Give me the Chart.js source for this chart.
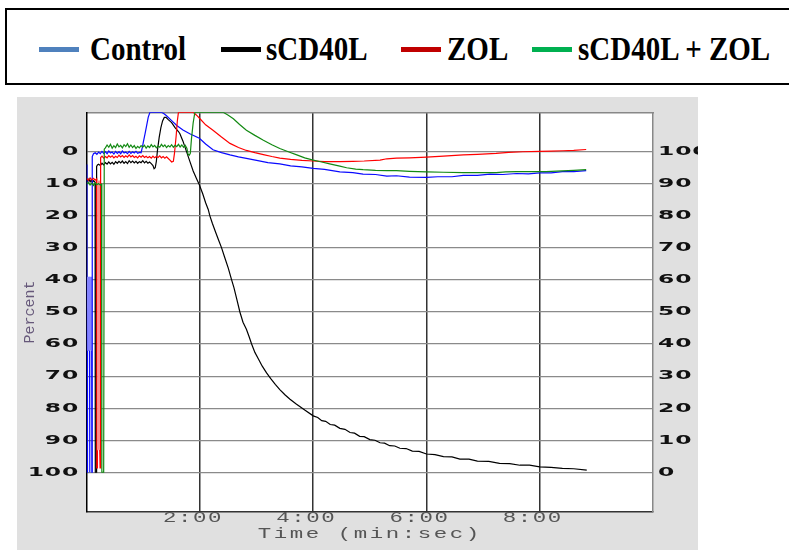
<!DOCTYPE html>
<html><head><meta charset="utf-8">
<script src="https://cdn.jsdelivr.net/npm/chart.js@4.4.1/dist/chart.umd.min.js"></script>
<style>
html,body{margin:0;padding:0;background:#fff;width:789px;height:550px;overflow:hidden;position:relative;}
#box{position:absolute;left:5px;top:8px;width:820px;height:77px;border:2px solid #000;box-sizing:border-box;}
.sw{position:absolute;top:47px;height:5px;width:40px;}
.lt{position:absolute;top:36.4px;height:29px;font:bold 29px "Liberation Serif";line-height:29px;white-space:nowrap;color:#000;transform:scaleY(1.15);transform-origin:0 24.3px;}
#panel{position:absolute;left:17px;top:97px;width:681px;height:453px;background:#e0e0e0;}
canvas{display:block;}
</style></head>
<body>
<div id="box"></div>
<div class="sw" style="left:39px;background:#4f81bd"></div><div class="lt" style="left:90px">Control</div>
<div class="sw" style="left:221px;background:#000"></div><div class="lt" style="left:266px">sCD40L</div>
<div class="sw" style="left:401px;background:#c00000"></div><div class="lt" style="left:447px">ZOL</div>
<div class="sw" style="left:532px;background:#00b050"></div><div class="lt" style="left:578px">sCD40L + ZOL</div>
<div id="panel"><canvas id="c" width="681" height="453"></canvas></div>
<script>
// ---- axis ticks ----
const percentTicks = [0,10,20,30,40,50,60,70,80,90,100];
const timeTicks = [2,4,6,8];
const timeLabels = ['2:00','4:00','6:00','8:00'];
const axisLow = -12.3, axisHigh = 112.3;

// ---- Control (time in min, percent on left axis) ----
const controlT = [0,0.004,0.011,0.014,0.018,0.022,0.026,0.03,0.034,0.038,0.042,0.046,0.05,0.053,0.056,0.06,0.064,0.068,0.072,0.076,0.08,0.084,0.088,0.091,0.094,0.098,
 0.12,0.15,0.18,0.21,0.24,0.27,0.3,0.33,0.36,0.39,0.42,0.45,0.48,0.51,0.54,0.57,0.6,0.63,0.66,0.69,0.72,0.75,0.78,0.81,0.84,0.87,0.9,0.93,0.96,
 0.985,1.0,1.03,1.06,1.087,1.117,1.32,1.36,1.41,1.5,1.59,1.7,1.82,1.99,2.1,2.23,2.38,2.53,2.68,2.82,3.0,3.2,3.41,3.6,3.8,4.0,4.2,4.47,4.7,4.88,5.1,5.3,5.47,5.7,6.0,6.2,6.45,6.65,6.9,7.12,7.35,7.59,7.8,8.0,8.2,8.4,8.6,8.82];
const controlV = [4,100,100,39,62,39,62,39,62,39,62,39,62,100,62,39,62,39,62,39,62,39,62,100,100,1.5,
 0.6,0.3,0.8,0.1,0.6,-0.1,0.5,0.0,0.6,-0.2,0.4,0.1,0.7,-0.1,0.5,0.0,0.6,-0.2,0.4,0.1,0.6,-0.1,0.5,0.0,0.4,-0.1,0.5,0.2,0.3,
 -1.5,-3.0,-5.6,-8.3,-10.8,-12.3,-12.3,-11.9,-11.2,-9.7,-8.2,-6.8,-5.6,-4.2,-2.4,-0.6,0.3,1.0,1.6,2.1,2.7,3.4,3.8,4.4,4.7,5.2,5.5,6.3,6.5,7.0,7.1,7.6,7.5,7.9,8.0,7.8,7.8,7.4,7.4,7.0,7.1,6.8,6.9,6.6,6.6,6.2,6.2,5.9];

// ---- sCD40L ----
const scd40lT = [0,0.02,0.04,0.06,0.08,0.1,0.12,0.14,0.148,0.152,0.168,0.175,
 0.19,0.21,0.24,0.27,0.3,0.33,0.36,0.39,0.42,0.45,0.48,0.51,0.54,0.57,0.6,0.63,0.66,0.69,0.72,0.75,0.78,0.81,0.84,0.87,0.9,0.93,0.96,0.99,1.02,1.05,1.08,1.11,1.14,1.17,
 1.19,1.21,1.23,1.25,1.28,1.31,1.34,1.37,1.4,1.44,1.5,1.56,1.62,1.646,1.7,1.76,1.823,1.88,1.94,1.987,2.05,2.1,2.146,2.175,2.22,2.28,2.33,2.382,2.43,2.5,2.559,2.6,2.65,2.705,2.76,2.82,2.87,2.912,2.97,3.03,3.1,3.176,3.25,3.33,3.41,3.5,3.59,3.7,3.85,
 4.0,4.08,4.15,4.22,4.3,4.38,4.47,4.56,4.65,4.73,4.82,4.9,5.0,5.09,5.18,5.26,5.35,5.44,5.53,5.64,5.75,5.87,6.0,6.15,6.3,6.45,6.59,6.75,6.9,7.1,7.29,7.47,7.65,7.82,8.0,8.2,8.4,8.6,8.83];
const scd40lV = [8.7,9.3,8.5,9.4,8.8,9.6,9.0,9.3,9.5,100,100,4.6,
 4.1,3.9,4.3,3.6,4.1,3.4,3.9,3.2,3.8,3.3,3.9,3.1,3.6,3.0,3.5,2.9,3.6,3.1,3.7,2.8,3.4,2.9,3.5,3.0,3.6,3.1,3.4,2.8,3.5,3.0,3.6,3.2,3.7,4.3,
 5.3,5.0,3.0,-0.5,-4.5,-7.5,-9.6,-10.7,-10.7,-10.0,-9.1,-7.5,-6.3,-5.6,-3.3,-0.2,3.1,6.0,8.4,10.2,13.2,15.9,18.0,20,22.4,25.3,27.6,30,32.6,36.3,40,42.4,46.0,50,53.2,55.4,57.8,60,62.6,64.6,66.9,69,70.8,72.6,74.2,75.8,77.2,78.7,80.6,
 82.4,82.9,83.9,84.1,85.1,85.3,86.3,86.6,87.6,87.8,88.8,88.9,89.8,90.0,90.8,90.9,91.7,91.8,92.5,92.6,93.4,93.5,94.3,94.5,95.1,95.2,95.9,95.9,96.5,96.6,97.2,97.3,97.8,97.8,98.3,98.5,98.8,98.9,99.3];

// ---- ZOL ----
const zolT = [0,0.03,0.06,0.09,0.12,0.15,0.175,0.178,0.186,0.19,0.194,0.198,0.202,0.206,0.21,0.214,0.218,0.222,0.226,0.23,0.236,0.244,0.248,
 0.27,0.3,0.33,0.36,0.39,0.42,0.45,0.48,0.51,0.54,0.57,0.6,0.63,0.66,0.69,0.72,0.75,0.78,0.81,0.84,0.87,0.9,0.93,0.96,0.99,1.02,1.05,1.08,1.11,1.14,1.17,1.2,1.23,1.26,1.29,1.32,1.35,1.38,1.41,1.44,
 1.47,1.5,1.53,1.55,1.58,1.6,1.62,1.88,1.94,2.0,2.1,2.23,2.38,2.53,2.68,2.82,2.97,3.12,3.27,3.41,3.6,3.8,4.0,4.2,4.47,4.7,4.9,5.18,5.3,5.47,5.7,6.0,6.3,6.65,6.9,7.23,7.45,7.7,8.0,8.2,8.41,8.6,8.82];
const zolV = [8.3,8.9,8.2,8.8,8.3,8.9,8.5,98.6,98.6,93,9,93,9,93,9,93,9,93,9,93,98.6,98.6,1.8,
 1.4,2.0,1.5,1.9,1.2,1.7,1.3,1.9,1.4,1.8,1.1,1.6,1.2,1.8,1.3,1.7,1.0,1.6,1.2,1.8,1.4,1.9,1.3,1.7,1.2,1.8,1.4,1.9,1.5,2.0,1.4,1.9,1.5,1.8,1.3,1.9,1.5,2.0,1.6,2.1,
 2.6,3.2,3.0,0.5,-5,-9.5,-12.3,-12.3,-11.4,-10.3,-8.4,-6.7,-4.6,-2.6,-1.3,-0.4,0.3,0.9,1.5,2.0,2.4,2.7,2.9,3.1,3.1,3.0,2.9,2.6,2.2,2.0,1.9,1.7,1.4,1.0,0.8,0.5,0.2,0.0,-0.1,-0.2,-0.3,-0.4,-0.7];

// ---- sCD40L + ZOL ----
const comboT = [0,0.03,0.06,0.09,0.12,0.15,0.18,0.21,0.24,0.262,0.265,0.27,0.3,0.31,
 0.33,0.36,0.39,0.42,0.45,0.48,0.51,0.54,0.57,0.6,0.63,0.66,0.69,0.72,0.75,0.78,0.81,0.84,0.87,0.9,0.93,0.96,0.99,1.02,1.05,1.08,1.11,1.14,1.17,1.2,1.23,1.26,1.29,1.32,1.35,1.38,1.41,1.44,1.47,1.5,1.53,1.56,1.59,1.62,1.65,1.68,1.71,1.74,1.77,
 1.79,1.81,1.83,1.85,1.88,1.91,2.41,2.5,2.59,2.7,2.82,2.97,3.12,3.27,3.41,3.56,3.71,3.85,4.0,4.15,4.29,4.47,4.59,4.75,4.88,5.1,5.3,5.47,5.7,6.0,6.3,6.65,6.95,7.23,7.4,7.59,7.85,8.11,8.4,8.6,8.82];
const comboV = [10.0,9.6,10.4,9.8,10.5,9.7,10.3,9.9,10.4,10.1,93,100,100,-0.8,
 -1.2,-2.1,-1.4,-2.3,-1.1,-1.9,-1.3,-2.4,-1.5,-2.0,-1.2,-2.2,-1.6,-2.5,-1.4,-2.1,-1.3,-1.9,-1.0,-1.7,-1.2,-1.9,-1.4,-2.0,-1.1,-1.8,-1.3,-2.2,-1.5,-2.0,-1.2,-1.8,-1.4,-2.3,-1.6,-2.1,-1.3,-1.9,-1.5,-2.2,-1.4,-2.0,-1.6,-2.3,-1.5,-2.1,-1.4,-2.0,-1.0,
 0.8,1.1,0.5,-4,-9,-12.3,-12.3,-11.4,-10.3,-8.5,-6.7,-5.1,-3.6,-2.2,-1.0,0.0,1.0,1.9,2.6,3.2,3.8,4.5,5.0,5.4,5.6,5.8,5.9,5.9,6.1,6.3,6.4,6.5,6.5,6.5,6.3,6.2,6.2,6.2,6.0,5.8,5.6];

const pts = (t, v) => t.map((x, i) => ({x, y: v[i]}));
function lightSegments(windows, col) {
  return c => windows.some(w => c.p0.parsed.x >= w[0] && c.p1.parsed.x <= w[1]) ? col : undefined;
}

// text styling per scale: letter spacing and horizontal stretch
const labelStyle = {x: ['1px', 1.6], y: ['0.5px', 1.8], y2: ['0.5px', 1.8]};
const titleStyle = {x: ['1.6px', 1.6], y: ['0px', 1]};
function styled(scale, style, fn) {
  const c = scale.ctx;
  const [ls, sx] = style || ['0px', 1];
  c.save();
  c.letterSpacing = ls;
  const orig = CanvasRenderingContext2D.prototype.fillText;
  if (sx !== 1) {
    c.fillText = function (t, x, y, mw) {
      this.save(); this.translate(x, y); this.scale(sx, 1);
      if (mw === undefined || mw === null) orig.call(this, t, 0, 0); else orig.call(this, t, 0, 0, mw / sx);
      this.restore();
    };
  }
  fn();
  delete c.fillText;
  c.restore();
}
const helper = {
  id: 'helper',
  afterUpdate(chart) {
    Object.values(chart.scales).forEach(s => {
      if (s.__sp) return; s.__sp = true;
      const dl = s.drawLabels, dt = s.drawTitle;
      s.drawLabels = function (a) { styled(this, labelStyle[this.id], () => dl.call(this, a)); };
      s.drawTitle = function () { styled(this, titleStyle[this.id], () => dt.call(this)); };
    });
  },
  beforeDraw(chart) {
    const {ctx, chartArea: a} = chart;
    ctx.save(); ctx.fillStyle = '#fff'; ctx.fillRect(a.left, a.top, a.right - a.left, a.bottom - a.top); ctx.restore();
  }
};

new Chart(document.getElementById('c'), {
  type: 'line',
  data: {
    datasets: [
      {label: 'sCD40L + ZOL', data: pts(comboT, comboV), borderColor: '#138a13', order: 1},
      {label: 'ZOL', data: pts(zolT, zolV), borderColor: '#ff0000', order: 2,
       segment: {borderColor: lightSegments([[0.188, 0.232]], '#ff8c8c')}},
      {label: 'Control', data: pts(controlT, controlV), borderColor: '#0a0aff', order: 3,
       segment: {borderColor: lightSegments([[0.014, 0.05], [0.056, 0.088]], '#8484ff')}},
      {label: 'sCD40L', data: pts(scd40lT, scd40lV), borderColor: '#000000', order: 4}
    ]
  },
  options: {
    responsive: false, animation: false,
    layout: {padding: {top: 9.7, right: 0, bottom: 0, left: 0}},
    plugins: {legend: {display: false}, tooltip: {enabled: false}},
    elements: {point: {radius: 0}, line: {borderWidth: 1.2, tension: 0}},
    scales: {
      x: {
        type: 'linear', position: 'bottom', min: 0, max: 10,
        afterBuildTicks: s => { s.ticks = timeTicks.map(v => ({value: v})); },
        afterFit: s => { s.height = 38.3; },
        ticks: {callback: v => timeLabels[timeTicks.indexOf(v)], font: {family: 'Liberation Mono', size: 14, lineHeight: 1},
                color: '#555', padding: 0, labelOffset: -7, maxRotation: 0, autoSkip: false},
        grid: {color: '#333', lineWidth: 1.5, drawTicks: false},
        border: {color: '#333', width: 1.5},
        title: {display: true, text: 'Time (min:sec)', font: {family: 'Liberation Mono', size: 14, lineHeight: 1.2}, color: '#555', padding: {top: 0, bottom: 7.6}}
      },
      x2: {
        type: 'linear', position: 'top', min: 0, max: 10,
        afterFit: s => { s.height = 0; },
        ticks: {display: false}, grid: {display: false, drawTicks: false},
        border: {color: '#888', width: 1.5}
      },
      y: {
        type: 'linear', position: 'left', reverse: true, min: axisLow, max: axisHigh,
        afterBuildTicks: s => { s.ticks = percentTicks.map(v => ({value: v})); },
        afterFit: s => { s.width = 69.7; },
        ticks: {callback: v => String(v), font: {family: 'DejaVu Sans', size: 13, weight: 'bold'}, color: '#111', padding: 7.5, autoSkip: false},
        grid: {color: '#8a8a8a', lineWidth: 1.2, drawTicks: false},
        border: {color: '#000', width: 1.5},
        title: {display: true, text: 'Percent', font: {family: 'Liberation Mono', size: 15, lineHeight: 1.2}, color: '#66587a', padding: {top: 4.5, bottom: 0}}
      },
      y2: {
        type: 'linear', position: 'right', min: 100 - axisHigh, max: 100 - axisLow,
        afterBuildTicks: s => { s.ticks = percentTicks.map(v => ({value: v})); },
        afterFit: s => { s.width = 45; },
        ticks: {callback: v => String(v), font: {family: 'DejaVu Sans', size: 13, weight: 'bold'}, color: '#111', padding: 5, autoSkip: false},
        grid: {display: false, drawTicks: false},
        border: {color: '#888', width: 1.5}
      }
    }
  },
  plugins: [helper]
});
</script>
</body></html>
